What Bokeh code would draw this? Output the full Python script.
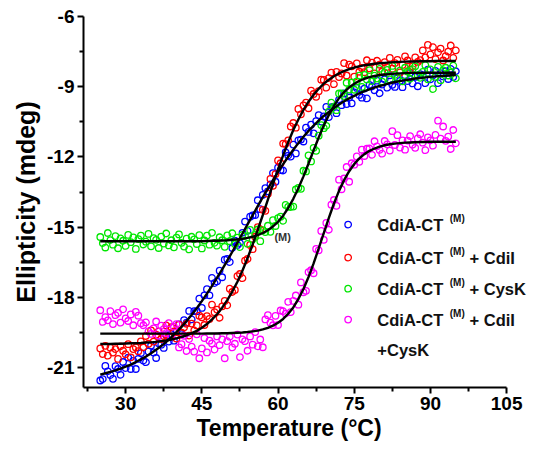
from bokeh.plotting import figure
from bokeh.models import Range1d, FixedTicker, Label, Title
from bokeh.embed import file_html
from bokeh.resources import INLINE

# ---------------- data ----------------
temp_points = [
    25.0, 25.5, 26.0, 26.5, 27.0, 27.5, 28.0, 28.5, 29.0, 29.5,
    30.0, 30.5, 31.0, 31.5, 32.0, 32.5, 33.0, 33.5, 34.0, 34.5,
    35.0, 35.5, 36.0, 36.5, 37.0, 37.5, 38.0, 38.5, 39.0, 39.5,
    40.0, 40.5, 41.0, 41.5, 42.0, 42.5, 43.0, 43.5, 44.0, 44.5,
    45.0, 45.5, 46.0, 46.5, 47.0, 47.5, 48.0, 48.5, 49.0, 49.5,
    50.0, 50.5, 51.0, 51.5, 52.0, 52.5, 53.0, 53.5, 54.0, 54.5,
    55.0, 55.5, 56.0, 56.5, 57.0, 57.5, 58.0, 58.5, 59.0, 59.5,
    60.0, 60.5, 61.0, 61.5, 62.0, 62.5, 63.0, 63.5, 64.0, 64.5,
    65.0, 65.5, 66.0, 66.5, 67.0, 67.5, 68.0, 68.5, 69.0, 69.5,
    70.0, 70.5, 71.0, 71.5, 72.0, 72.5, 73.0, 73.5, 74.0, 74.5,
    75.0, 75.5, 76.0, 76.5, 77.0, 77.5, 78.0, 78.5, 79.0, 79.5,
    80.0, 80.5, 81.0, 81.5, 82.0, 82.5, 83.0, 83.5, 84.0, 84.5,
    85.0, 85.5, 86.0, 86.5, 87.0, 87.5, 88.0, 88.5, 89.0, 89.5,
    90.0, 90.5, 91.0, 91.5, 92.0, 92.5, 93.0, 93.5, 94.0, 94.5,
    95.0,
]

cdia_ct = [
    -21.55, -21.49, -20.93, -21.16, -21.32, -21.48, -20.94, -21.06, -21.31, -20.76,
    -21.02, -20.57, -21.06, -20.71, -21.06, -20.63, -20.38, -20.70, -20.77, -20.31,
    -20.06, -20.35, -20.59, -19.96, -20.02, -20.16, -19.61, -19.89, -19.57, -19.85,
    -19.44, -19.15, -19.57, -18.97, -19.08, -18.58, -18.94, -18.59, -18.59, -18.05,
    -18.45, -17.91, -17.65, -17.91, -17.17, -17.39, -17.32, -16.86, -17.14, -16.39,
    -16.36, -16.49, -15.89, -15.58, -15.76, -15.68, -15.24, -14.76, -15.16, -14.55,
    -14.50, -14.48, -13.85, -14.23, -13.62, -13.33, -13.47, -13.17, -12.69, -13.06,
    -12.46, -12.56, -12.58, -11.80, -11.94, -11.99, -11.47, -11.85, -11.29, -11.26,
    -11.34, -10.75, -10.93, -10.62, -10.99, -10.47, -10.21, -10.49, -10.27, -9.86,
    -10.30, -9.87, -9.85, -10.13, -9.56, -9.79, -9.29, -9.74, -9.46, -9.71,
    -9.24, -9.05, -9.35, -9.47, -9.08, -9.50, -8.92, -8.99, -9.15, -8.74,
    -9.28, -8.91, -8.68, -9.04, -8.51, -8.92, -9.01, -8.64, -8.75, -9.02,
    -8.51, -8.76, -8.41, -8.86, -8.58, -8.98, -8.46, -8.52, -8.85, -8.27,
    -8.69, -8.52, -8.32, -8.85, -8.42, -8.56, -8.34, -8.67, -8.24, -8.59,
    -8.34,
]

cdia_ct_cdii = [
    -20.18, -20.42, -20.07, -20.49, -20.15, -20.36, -20.21, -20.63, -20.09, -20.28,
    -20.43, -20.00, -20.56, -20.21, -20.14, -20.30, -19.88, -20.13, -19.65, -19.98,
    -19.41, -19.89, -19.59, -19.45, -19.78, -19.65, -19.20, -19.68, -19.27, -19.45,
    -19.76, -19.16, -19.51, -19.28, -19.13, -19.63, -19.12, -19.41, -19.20, -18.78,
    -18.85, -19.18, -18.80, -18.92, -18.31, -18.63, -18.52, -18.87, -18.38, -18.15,
    -18.34, -17.63, -17.77, -17.68, -17.09, -17.00, -17.18, -16.43, -16.36, -15.76,
    -15.94, -15.41, -15.00, -15.10, -14.26, -14.30, -13.57, -12.94, -13.23, -12.73,
    -12.15, -12.27, -11.43, -11.45, -11.29, -10.70, -10.55, -10.75, -9.95, -10.18,
    -9.80, -9.68, -9.92, -9.17, -9.31, -9.43, -9.19, -8.70, -8.71, -9.04,
    -8.63, -8.40, -8.89, -8.37, -8.59, -8.43, -7.99, -8.52, -8.06, -8.13,
    -8.57, -8.00, -8.36, -8.20, -8.38, -7.87, -8.22, -7.97, -8.43, -7.89,
    -8.06, -8.35, -7.95, -8.16, -7.77, -8.23, -7.99, -7.85, -8.39, -8.07,
    -7.70, -7.88, -8.26, -8.13, -7.75, -7.94, -7.86, -7.45, -7.75, -7.21,
    -7.62, -7.31, -7.82, -7.53, -7.37, -7.88, -7.69, -7.50, -7.24, -7.77,
    -7.45,
]

cdia_ct_cysk = [
    -15.42, -15.68, -15.87, -15.25, -15.55, -15.75, -15.38, -15.90, -15.48, -15.58,
    -15.80, -15.33, -15.64, -15.44, -15.93, -15.51, -15.36, -15.74, -15.62, -15.29,
    -15.82, -15.47, -15.54, -15.89, -15.40, -15.70, -15.27, -15.78, -15.56, -15.86,
    -15.45, -15.31, -15.67, -15.83, -15.49, -15.95, -15.41, -15.52, -15.72, -15.34,
    -15.91, -15.57, -15.36, -15.75, -15.24, -15.67, -15.79, -15.43, -15.56, -15.84,
    -15.35, -15.60, -15.26, -15.72, -15.45, -15.85, -15.33, -15.38, -15.71, -15.12,
    -15.52, -15.33, -15.10, -15.60, -15.13, -15.21, -14.94, -15.20, -14.70, -14.95,
    -14.61, -14.55, -14.73, -14.05, -14.13, -14.14, -14.12, -13.39, -13.32, -13.36,
    -12.59, -12.62, -11.93, -12.19, -11.61, -11.74, -11.09, -10.64, -10.77, -10.67,
    -10.06, -9.68, -9.85, -10.00, -9.29, -9.29, -9.40, -8.83, -9.12, -8.82,
    -9.13, -8.77, -8.53, -9.01, -8.49, -8.69, -8.29, -8.76, -8.53, -8.65,
    -8.24, -8.78, -8.39, -8.28, -8.69, -8.11, -8.49, -8.60, -8.31, -8.77,
    -8.19, -8.35, -8.66, -8.25, -8.13, -8.51, -8.62, -8.37, -8.08, -8.68,
    -8.26, -9.10, -8.58, -8.15, -8.72, -8.30, -8.19, -8.52, -8.40, -8.10,
    -8.64,
]

cdia_ct_cdii_cysk = [
    -18.55, -19.05, -18.84, -18.98, -18.59, -19.14, -18.76, -18.66, -19.08, -18.51,
    -18.90, -19.01, -18.73, -19.19, -18.62, -18.78, -19.10, -19.19, -19.07, -19.45,
    -19.56, -19.32, -19.03, -19.63, -19.21, -19.36, -19.53, -19.10, -19.67, -19.25,
    -19.14, -20.14, -20.00, -19.64, -20.29, -19.78, -20.10, -20.32, -19.58, -20.60,
    -20.18, -19.74, -20.35, -19.85, -19.97, -20.23, -19.67, -20.04, -19.79, -20.60,
    -19.87, -19.68, -20.14, -19.98, -19.59, -20.55, -19.79, -19.87, -20.28, -19.67,
    -20.02, -19.48, -20.09, -19.80, -20.13, -18.94, -18.76, -19.08, -19.19, -18.79,
    -19.18, -18.56, -18.59, -18.69, -18.19, -18.63, -18.15, -17.92, -18.31, -17.36,
    -17.78, -17.72, -16.92, -16.84, -16.97, -15.93, -15.99, -15.16, -15.54, -14.82,
    -15.11, -14.04, -13.84, -14.09, -12.97, -13.38, -12.92, -12.43, -13.06, -12.27,
    -12.33, -11.98, -12.21, -11.69, -11.96, -11.65, -11.64, -11.91, -11.33, -11.55,
    -11.70, -11.86, -11.32, -11.46, -11.73, -10.90, -11.49, -11.07, -11.60, -11.29,
    -11.69, -11.30, -11.11, -11.48, -11.61, -11.21, -11.03, -11.39, -11.71, -11.16,
    -11.29, -11.52, -11.06, -10.45, -11.22, -10.70, -11.31, -11.13, -11.66, -10.85,
    -11.42,
]

fit_temp = [
    25, 26, 27, 28, 29, 30, 31, 32, 33, 34,
    35, 36, 37, 38, 39, 40, 41, 42, 43, 44,
    45, 46, 47, 48, 49, 50, 51, 52, 53, 54,
    55, 56, 57, 58, 59, 60, 61, 62, 63, 64,
    65, 66, 67, 68, 69, 70, 71, 72, 73, 74,
    75, 76, 77, 78, 79, 80, 81, 82, 83, 84,
    85, 86, 87, 88, 89, 90, 91, 92, 93, 94, 95,
]

fit_cdia_ct = [
    -21.30, -21.24, -21.18, -21.12, -21.04, -20.96, -20.87, -20.76, -20.65, -20.53,
    -20.39, -20.24, -20.08, -19.90, -19.70, -19.48, -19.26, -19.01, -18.74, -18.46,
    -18.16, -17.84, -17.51, -17.16, -16.80, -16.43, -16.05, -15.66, -15.27, -14.88,
    -14.49, -14.10, -13.72, -13.35, -12.99, -12.64, -12.31, -11.99, -11.69, -11.41,
    -11.14, -10.89, -10.66, -10.45, -10.25, -10.08, -9.91, -9.76, -9.62, -9.50,
    -9.39, -9.28, -9.19, -9.11, -9.03, -8.97, -8.91, -8.85, -8.80, -8.76,
    -8.72, -8.69, -8.65, -8.63, -8.60, -8.58, -8.56, -8.54, -8.53, -8.51, -8.50,
]

fit_cdia_ct_cdii = [
    -19.99, -19.99, -19.99, -19.98, -19.98, -19.97, -19.96, -19.96, -19.95, -19.93,
    -19.92, -19.90, -19.87, -19.84, -19.80, -19.75, -19.69, -19.62, -19.53, -19.43,
    -19.30, -19.14, -18.94, -18.72, -18.44, -18.12, -17.75, -17.33, -16.85, -16.32,
    -15.74, -15.12, -14.48, -13.82, -13.16, -12.53, -11.93, -11.37, -10.85, -10.40,
    -9.99, -9.64, -9.34, -9.09, -8.87, -8.70, -8.55, -8.43, -8.33, -8.25,
    -8.18, -8.13, -8.08, -8.05, -8.02, -8.00, -7.98, -7.96, -7.95, -7.94,
    -7.93, -7.92, -7.92, -7.91, -7.91, -7.91, -7.90, -7.90, -7.90, -7.90, -7.90,
]

fit_cdia_ct_cysk = [
    -15.60, -15.60, -15.60, -15.60, -15.60, -15.60, -15.60, -15.60, -15.60, -15.60,
    -15.60, -15.60, -15.60, -15.60, -15.60, -15.60, -15.60, -15.60, -15.60, -15.60,
    -15.60, -15.59, -15.58, -15.58, -15.57, -15.56, -15.54, -15.52, -15.50, -15.46,
    -15.41, -15.34, -15.25, -15.13, -14.97, -14.77, -14.51, -14.18, -13.79, -13.34,
    -12.83, -12.28, -11.72, -11.17, -10.66, -10.21, -9.82, -9.49, -9.23, -9.03,
    -8.87, -8.75, -8.66, -8.59, -8.54, -8.50, -8.48, -8.46, -8.44, -8.43,
    -8.42, -8.41, -8.41, -8.41, -8.40, -8.40, -8.40, -8.40, -8.40, -8.40, -8.40,
]

fit_cdia_ct_cdii_cysk = [
    -19.55, -19.55, -19.55, -19.55, -19.55, -19.55, -19.55, -19.55, -19.55, -19.55,
    -19.55, -19.55, -19.55, -19.55, -19.55, -19.55, -19.55, -19.55, -19.55, -19.55,
    -19.55, -19.54, -19.54, -19.54, -19.53, -19.53, -19.52, -19.51, -19.50, -19.48,
    -19.45, -19.42, -19.37, -19.30, -19.21, -19.08, -18.92, -18.70, -18.43, -18.07,
    -17.64, -17.13, -16.55, -15.91, -15.25, -14.60, -13.99, -13.45, -12.99, -12.61,
    -12.30, -12.06, -11.88, -11.74, -11.64, -11.56, -11.50, -11.46, -11.43, -11.41,
    -11.39, -11.38, -11.37, -11.36, -11.36, -11.35, -11.35, -11.35, -11.35, -11.35, -11.35,
]

x_ticks = [30, 45, 60, 75, 90, 105]
x_tick_labels = ["30", "45", "60", "75", "90", "105"]
x_minor_ticks = [22.5, 37.5, 52.5, 67.5, 82.5, 97.5]
y_ticks = [-6, -9, -12, -15, -18, -21]
y_tick_labels = ["-6", "-9", "-12", "-15", "-18", "-21"]
y_minor_ticks = [-7.5, -10.5, -13.5, -16.5, -19.5]

series_names = ["CdiA-CT", "CdiA-CT", "CdiA-CT", "CdiA-CT"]
series_suffix = ["", "+ CdiI", "+ CysK", "+ CdiI"]
series_colors = ["#0000FF", "#FF0000", "#00E600", "#FF00FF"]
series_values = [cdia_ct, cdia_ct_cdii, cdia_ct_cysk, cdia_ct_cdii_cysk]
series_fits = [fit_cdia_ct, fit_cdia_ct_cdii, fit_cdia_ct_cysk, fit_cdia_ct_cdii_cysk]

FONT = "Liberation Sans"

# ---------------- figure ----------------
# frame extends to the right edge so the legend text is not clipped;
# the x axis line itself stops at 105 (axis bounds)
p = figure(width=529, height=445,
           x_range=Range1d(21.7, 109.5), y_range=Range1d(-21.85, -6),
           output_backend="svg", toolbar_location=None,
           min_border_left=83, min_border_right=0,
           min_border_top=16, min_border_bottom=58)
p.outline_line_color = None
p.xgrid.visible = False
p.ygrid.visible = False
p.background_fill_color = "white"

p.xaxis.ticker = FixedTicker(ticks=x_ticks, minor_ticks=x_minor_ticks)
p.yaxis.ticker = FixedTicker(ticks=y_ticks, minor_ticks=y_minor_ticks)
p.xaxis.bounds = (21.7, 105)
p.xaxis.major_label_overrides = {t: s for t, s in zip(x_ticks, x_tick_labels)}
p.yaxis.major_label_overrides = {t: s for t, s in zip(y_ticks, y_tick_labels)}
p.yaxis.axis_label = "Ellipticity (mdeg)"

for ax in (p.xaxis[0], p.yaxis[0]):
    ax.axis_line_width = 2
    ax.axis_line_color = "black"
    ax.major_tick_line_width = 2
    ax.minor_tick_line_width = 2
    ax.major_tick_out = 6
    ax.major_tick_in = 0
    ax.minor_tick_out = 4
    ax.minor_tick_in = 0
    ax.major_label_text_font = FONT
    ax.major_label_text_font_style = "bold"
    ax.major_label_text_font_size = "19px"
    ax.major_label_text_color = "black"
    ax.major_label_standoff = 3
    ax.axis_label_text_font = FONT
    ax.axis_label_text_font_style = "bold"
    ax.axis_label_text_color = "black"
    ax.axis_label_standoff = 4
p.xaxis.major_label_standoff = 3
p.yaxis.axis_label_text_font_size = "25px"

# x-axis title, centred under the drawn axis (up to 105) rather than the frame
p.add_layout(Title(text="Temperature (°C)", align="left", offset=113,
                   text_font=FONT, text_font_style="bold",
                   text_font_size="23px", text_color="black",
                   standoff=0), "below")

for vals, col in zip(series_values, series_colors):
    p.scatter(temp_points, vals, marker="circle", size=6.5,
              fill_color=None, line_color=col, line_width=1.3)

for fit in series_fits:
    p.line(fit_temp, fit, line_color="black", line_width=2.4)

# stray "(M)" annotation inside the plot
p.add_layout(Label(x=60.9, y=-15.41, text="(M)", text_font=FONT,
                   text_font_style="bold", text_font_size="11px",
                   text_color="#333333", text_align="center",
                   text_baseline="middle"))

# ---------------- legend (custom, with superscripts) ----------------
leg_marker_x = 73.8
leg_text_x = 79.55
leg_sup_x = 93.8
leg_plus_x = 97.7
leg_rows = [-14.89, -16.30, -17.63, -18.95]

p.scatter([leg_marker_x] * 4, leg_rows, marker="circle", size=6.5,
          fill_color=None, line_color=series_colors, line_width=1.3)

for name, suf, yy in zip(series_names, series_suffix, leg_rows):
    p.add_layout(Label(x=leg_text_x, y=yy, text=name, text_font=FONT,
                       text_font_style="bold", text_font_size="16.5px",
                       text_color="#111111", text_baseline="middle"))
    p.add_layout(Label(x=leg_sup_x, y=yy + 0.27, text="(M)", text_font=FONT,
                       text_font_style="bold", text_font_size="10px",
                       text_color="#111111", text_baseline="middle"))
    if suf:
        p.add_layout(Label(x=leg_plus_x, y=yy, text=suf, text_font=FONT,
                           text_font_style="bold", text_font_size="16.5px",
                           text_color="#111111", text_baseline="middle"))
p.add_layout(Label(x=leg_text_x, y=-20.23, text="+CysK", text_font=FONT,
                   text_font_style="bold", text_font_size="16.5px",
                   text_color="#111111", text_baseline="middle"))

open("out.html", "w").write(file_html(p, INLINE))
